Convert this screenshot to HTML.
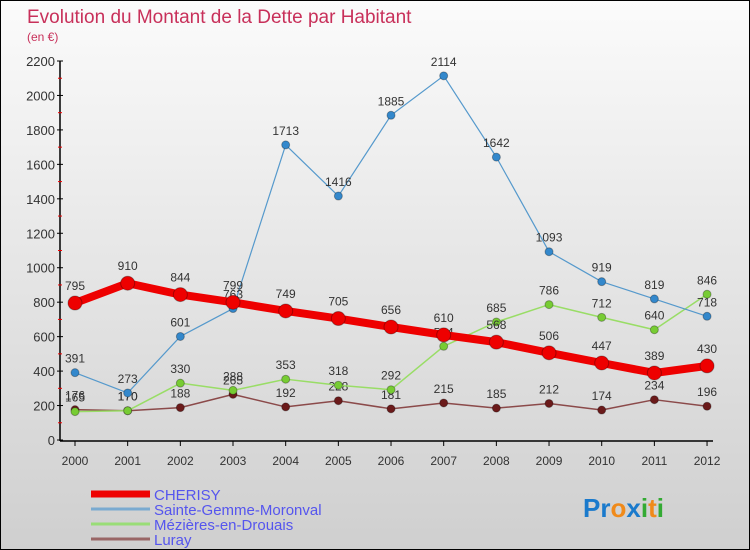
<!DOCTYPE html>
<html><head><meta charset="utf-8"><style>
body{margin:0}
#wrap{position:relative;width:748px;height:548px;border:1px solid #000;background:linear-gradient(#fbfbfb,#cfcfcf);font-family:"Liberation Sans",sans-serif;overflow:hidden}
svg text{font-family:"Liberation Sans",sans-serif}
</style></head><body>
<div id="wrap">
<svg id="c" width="748" height="548"></svg>
</div>
<script>
const years=["2000","2001","2002","2003","2004","2005","2006","2007","2008","2009","2010","2011","2012"];
const cherisy=[795,910,844,799,749,705,656,610,568,506,447,389,430];
const sainteGemme=[391,273,601,763,1713,1416,1885,2114,1642,1093,919,819,718];
const mezieres=[165,170,330,288,353,318,292,544,685,786,712,640,846];
const luray=[176,170,188,265,192,228,181,215,185,212,174,234,196];
const yTicks=[0,200,400,600,800,1000,1200,1400,1600,1800,2000,2200];
const NS="http://www.w3.org/2000/svg";
const svg=document.getElementById('c');
const X=i=>74+i*52.67, Y=v=>439-v*(379/2200);
function mk(t,a,p){const e=document.createElementNS(NS,t);for(const k in a)e.setAttribute(k,a[k]);(p||svg).appendChild(e);return e;}
let t=mk('text',{x:26,y:22,fill:'#c8305a','font-size':19});t.textContent='Evolution du Montant de la Dette par Habitant';


t=mk('text',{x:26,y:40,fill:'#c8305a','font-size':12});t.textContent='(en €)';


let ax=mk('line',{x1:59,y1:60,x2:59,y2:440,stroke:'#000','stroke-width':1.5});


ax=mk('line',{x1:59,y1:440,x2:712,y2:440,stroke:'#000','stroke-width':1.5});


yTicks.forEach(v=>{mk('line',{x1:56,y1:Y(v),x2:62,y2:Y(v),stroke:'#000'});
 const m=Y(v+100);if(v<2200)mk('line',{x1:57,y1:m,x2:61,y2:m,stroke:'#e00'});
 const l=mk('text',{x:54,y:Y(v)+5,'text-anchor':'end','font-size':13,fill:'#333'});l.textContent=v;
 
 });
years.forEach((y,i)=>{mk('line',{x1:X(i),y1:440,x2:X(i),y2:445,stroke:'#000'});
 const l=mk('text',{x:X(i),y:464,'text-anchor':'middle','font-size':12,fill:'#333'});l.textContent=y;
 
 });
function series(d,col,dot,w,r,name){
 const g=mk('g',{});
 
 
 mk('polyline',{points:d.map((v,i)=>X(i)+','+Y(v)).join(' '),fill:'none',stroke:col,'stroke-width':w,'stroke-linejoin':'round'},g);
 d.forEach((v,i)=>{const c=mk('circle',{cx:X(i),cy:Y(v),r:r,fill:dot,stroke:'rgba(0,0,0,0.3)'},g);
  
  
  const l=mk('text',{x:X(i),y:Y(v)-r-6,'text-anchor':'middle','font-size':12,fill:'#333'},g);l.textContent=v;
  
  });
}
series(luray,'#8b4a4a','#6b1a1a',1.5,4,'luray');
series(mezieres,'#99dd66','#77cc33',1.5,4,'mezieres');
series(sainteGemme,'#5599cc','#3388cc',1.2,4,'sainte-gemme');
series(cherisy,'#ee0000','#ee0000',8,7,'cherisy');
const leg=[['CHERISY','#ee0000',7],['Sainte-Gemme-Moronval','#7aaad0',3],['Mézières-en-Drouais','#99dd77',3],['Luray','#996666',3]];
leg.forEach((l,i)=>{const y=493+i*15;
 const g=mk('g',{});
 
 
 mk('line',{x1:90,y1:y,x2:149,y2:y,stroke:l[1],'stroke-width':l[2]},g);
 const tx=mk('text',{x:153,y:y+6,'font-size':15,fill:'#5555ee'},g);tx.textContent=l[0];});
const lg=mk('text',{x:582,y:516,'font-size':26,'font-weight':'bold'});


[['Pr','#1a7acc'],['o','#f08a1a'],['x','#1a7acc'],['i','#33aa33'],['t','#f08a1a'],['i','#33aa33']].forEach(p=>{const s=mk('tspan',{fill:p[1]},lg);s.textContent=p[0];});
</script>
</body></html>
